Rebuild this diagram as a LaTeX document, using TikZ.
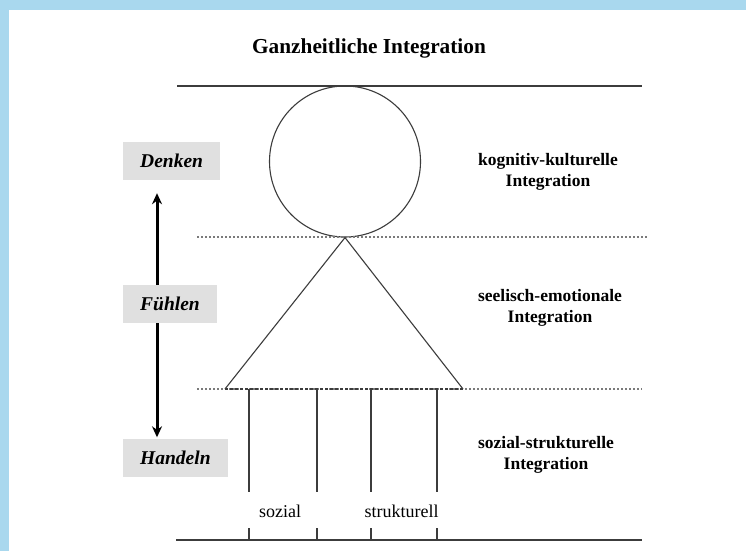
\documentclass[tikz,border=0pt]{standalone}
\usepackage{fontspec}
\setmainfont{Liberation Serif}
\usetikzlibrary{arrows.meta}
\definecolor{rahmenblau}{HTML}{A9D8EE}
\definecolor{strichgrau}{HTML}{3C3C3C}
\definecolor{punktgrau}{HTML}{7A7A7A}
\definecolor{kastengrau}{HTML}{E0E0E0}

\begin{document}
\begin{tikzpicture}[x=1pt, y=-1pt,
        linie/.style={draw=strichgrau, line width=1.1pt},
        ebene/.style={draw=punktgrau, line width=1.2pt, dash pattern=on 2pt off 2pt},
        kasten/.style={fill=kastengrau, anchor=west, minimum height=38pt,
          inner xsep=17pt, font=\fontsize{19.5}{22}\selectfont\bfseries\itshape},
        ebenentext/.style={align=center, font=\fontsize{17.5}{21}\selectfont\bfseries},
        stab/.style={anchor=base, font=\fontsize{18}{21}\selectfont}]
        \fill [rahmenblau] (0,0) rectangle (746,551);
        \fill [white] (9,10) rectangle (746,551);

        \node [anchor=base, font=\fontsize{21.3}{25}\selectfont\bfseries] (titel)
          at (369,53) {Ganzheitliche Integration};
        \draw [linie] (177,86) -- (642,86);
        \draw [linie] (176,540) -- (642,540);

        \node [circle, linie, minimum size=151pt, inner sep=0pt] (kopf) at (345,161.5) {};
        \draw [ebene] (197,237) -- (647,237);
        \draw [ebene] (197,389) -- (642,389);
        \coordinate (links) at (225,389);
        \coordinate (rechts) at (463,389);
        \draw [linie] (links) -- (kopf.south) -- (rechts);
        \draw [linie, dash pattern=on 3pt off 2pt] (links) -- (rechts);

        \foreach \x in {249,317,371,437} {
          \draw [linie] (\x,389) -- (\x,492);
          \draw [linie] (\x,528) -- (\x,540);
        }
        \node [stab] (sozial) at (280,517) {sozial};
        \node [stab] (strukturell) at (401.5,517) {strukturell};

        \node [kasten] (denken) at (123,161) {Denken};
        \node [kasten] (handeln) at (123,457.5) {Handeln};
        \draw [{Stealth[length=11pt,width=10pt]}-{Stealth[length=11pt,width=10pt]},
          line width=3pt, shorten <=13pt, shorten >=1pt]
          ([xshift=34pt]denken.south west) -- ([xshift=34pt]handeln.north west);
        \node [kasten] (fuehlen) at (123,304) {Fühlen};

        \node [ebenentext] (kognitiv) at (548,172) {kognitiv-kulturelle\\Integration};
        \node [ebenentext] (seelisch) at (550,308) {seelisch-emotionale\\Integration};
        \node [ebenentext] (sozialstr) at (546,455) {sozial-strukturelle\\Integration};
\end{tikzpicture}
\end{document}
